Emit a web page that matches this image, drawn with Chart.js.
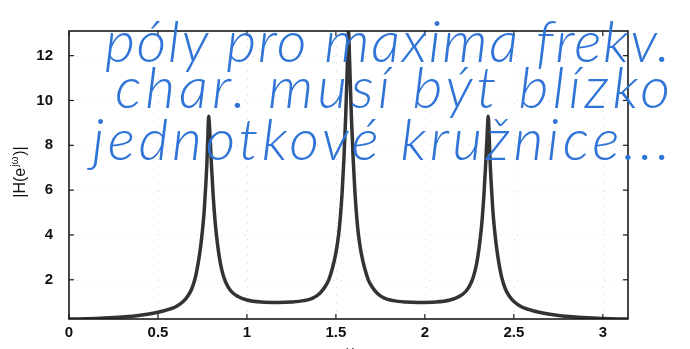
<!DOCTYPE html>
<html>
<head>
<meta charset="utf-8">
<script src="https://cdn.jsdelivr.net/npm/chart.js@4/dist/chart.umd.min.js"></script>
<style>
html, body { margin: 0; padding: 0; background: #fff; }
</style>
</head>
<body>
<canvas id="myChart" width="690" height="349"></canvas>
<script>
// frequency (rad) and |H(e^jw)|
let omega = [0, 0.1, 0.2, 0.3, 0.4, 0.5, 0.56, 0.6, 0.64, 0.67, 0.69, 0.71, 0.725, 0.74, 0.75, 0.76, 0.77, 0.775, 0.78, 0.785,
    0.79, 0.795, 0.8, 0.81, 0.82, 0.83, 0.845, 0.86, 0.88, 0.91, 0.95, 1.0, 1.08, 1.178,
    1.25, 1.32, 1.37, 1.41, 1.44, 1.46, 1.48, 1.5, 1.515, 1.525, 1.535, 1.545, 1.555, 1.562, 1.567, 1.571,
    1.575, 1.58, 1.587, 1.597, 1.607, 1.617, 1.627, 1.642, 1.662, 1.682, 1.702, 1.732, 1.772, 1.822, 1.892, 1.964,
    2.062, 2.142, 2.192, 2.232, 2.262, 2.282, 2.297, 2.312, 2.322, 2.332, 2.342, 2.347, 2.352, 2.356,
    2.362, 2.367, 2.372, 2.382, 2.392, 2.402, 2.417, 2.432, 2.452, 2.472, 2.502, 2.542, 2.582, 2.642, 2.742, 2.842, 2.942, 3.042, 3.142];
let magH = [0.25, 0.26, 0.29, 0.34, 0.42, 0.55, 0.68, 0.8, 1.02, 1.3, 1.6, 2.1, 2.7, 3.5, 4.2, 5.1, 6.4, 7.2, 8.3, 9.3,
    8.8, 8.0, 7.2, 5.8, 4.7, 3.9, 3.0, 2.4, 1.9, 1.5, 1.25, 1.1, 1.01, 0.99,
    1.01, 1.07, 1.18, 1.4, 1.7, 2.0, 2.5, 3.2, 4.0, 4.8, 5.9, 7.4, 9.3, 11.0, 12.3, 13.1,
    12.3, 11.0, 9.3, 7.4, 5.9, 4.8, 4.0, 3.2, 2.5, 2.0, 1.7, 1.4, 1.18, 1.07, 1.01, 0.99,
    1.01, 1.1, 1.25, 1.5, 1.9, 2.4, 3.0, 3.9, 4.7, 5.8, 7.2, 8.0, 8.8, 9.3,
    8.3, 7.2, 6.4, 5.1, 4.2, 3.5, 2.7, 2.1, 1.6, 1.3, 1.02, 0.8, 0.68, 0.55, 0.42, 0.34, 0.29, 0.26, 0.25];
let xTicks = [0, 0.5, 1, 1.5, 2, 2.5, 3];
let yTicks = [2, 4, 6, 8, 10, 12];
let yMin = 0.25;
let yMax = 13.1;
let note = ['póly pro maxima frekv.', 'char. musí být blízko', 'jednotkové kružnice...'];

let tickFont = { family: 'Liberation Sans', size: 15, weight: 'bold' };

// box, inward ticks, faint dotted grid, axis labels and the blue handwritten note
let decor = {
    id: 'decor',
    beforeDatasetsDraw(chart) {
        let c = chart.ctx, a = chart.chartArea;
        let xs = chart.scales.x, ys = chart.scales.y;
        c.save();
        c.strokeStyle = 'rgba(0,0,0,0.15)';
        c.lineWidth = 1;
        c.setLineDash([1, 7]);
        xTicks.forEach(v => {
            let px = Math.round(xs.getPixelForValue(v)) + 0.5;
            c.beginPath(); c.moveTo(px, a.top); c.lineTo(px, a.bottom); c.stroke();
        });
        yTicks.forEach(v => {
            let py = Math.round(ys.getPixelForValue(v)) + 0.5;
            c.beginPath(); c.moveTo(a.left, py); c.lineTo(a.right, py); c.stroke();
        });
        c.restore();
    },
    afterDraw(chart) {
        let c = chart.ctx, a = chart.chartArea;
        let xs = chart.scales.x, ys = chart.scales.y;
        c.save();
        c.strokeStyle = '#1a1a1a';
        c.lineWidth = 1.6;
        c.strokeRect(a.left, a.top, a.right - a.left, a.bottom - a.top);
        c.lineWidth = 1.2;
        xTicks.forEach(v => {
            let px = xs.getPixelForValue(v);
            c.beginPath(); c.moveTo(px, a.bottom); c.lineTo(px, a.bottom - 5); c.stroke();
            c.beginPath(); c.moveTo(px, a.top); c.lineTo(px, a.top + 5); c.stroke();
        });
        yTicks.forEach(v => {
            let py = ys.getPixelForValue(v);
            c.beginPath(); c.moveTo(a.left, py); c.lineTo(a.left + 5, py); c.stroke();
            c.beginPath(); c.moveTo(a.right, py); c.lineTo(a.right - 5, py); c.stroke();
        });

        // y title |H(e^jw)|
        c.fillStyle = '#111';
        c.translate(21, 172);
        c.rotate(-Math.PI / 2);
        c.textBaseline = 'middle';
        c.font = '16px "Liberation Sans"';
        let p1 = '|H(e', p2 = 'jω', p3 = ')|';
        let w1 = c.measureText(p1).width;
        c.font = '10px "Liberation Sans"';
        let w2 = c.measureText(p2).width;
        c.font = '16px "Liberation Sans"';
        let w3 = c.measureText(p3).width;
        let x0 = -(w1 + w2 + w3 + 2) / 2;
        c.fillText(p1, x0, 0);
        c.font = '10px "Liberation Sans"';
        c.fillText(p2, x0 + w1 + 1, -6);
        c.font = '16px "Liberation Sans"';
        c.fillText(p3, x0 + w1 + w2 + 2, 0);
        c.restore();

        // x title, cut by the bottom edge
        c.save();
        c.fillStyle = '#111';
        c.font = '15px "Liberation Sans"';
        c.textAlign = 'center';
        c.fillText('ω', 350, 356);
        c.restore();

        // handwritten note, thin italic spread over each line
        c.save();
        c.fillStyle = '#2f74d6';
        c.font = 'italic 300 58px Lato';
        let lines = [[105, 62, 565], [115, 108, 555], [92, 160, 578]];
        note.forEach((t, i) => {
            let [lx, ly, lw] = lines[i];
            c.letterSpacing = '0px';
            let tw = c.measureText(t).width;
            let sp = (lw - tw) / (t.length - 1);
            c.letterSpacing = sp.toFixed(2) + 'px';
            c.fillText(t, lx, ly);
        });
        c.restore();
    }
};

let ctx = document.getElementById('myChart').getContext('2d');
let chart = new Chart(ctx, {
    type: 'scatter',
    data: {
        datasets: [{
            data: omega.map((w, i) => ({ x: w, y: magH[i] })),
            showLine: true,
            borderColor: '#333',
            borderWidth: 3.5,
            pointRadius: 0,
            cubicInterpolationMode: 'monotone'
        }]
    },
    options: {
        responsive: false,
        animation: false,
        devicePixelRatio: 1,
        layout: { padding: { top: 31, right: 62, left: 0, bottom: 0 } },
        plugins: { legend: { display: false }, tooltip: { enabled: false } },
        scales: {
            x: {
                type: 'linear',
                min: 0,
                max: Math.PI,
                grid: { display: false, drawTicks: false },
                border: { display: false },
                afterBuildTicks: s => { s.ticks = xTicks.map(v => ({ value: v })); },
                afterFit: s => { s.height = 30; },
                ticks: { font: tickFont, color: '#111', padding: 5, autoSkip: false, maxRotation: 0, callback: v => String(v) }
            },
            y: {
                min: yMin,
                max: yMax,
                grid: { display: false, drawTicks: false },
                border: { display: false },
                afterBuildTicks: s => { s.ticks = yTicks.map(v => ({ value: v })); },
                afterFit: s => { s.width = 69; },
                ticks: { font: tickFont, color: '#111', padding: 16, autoSkip: false, callback: v => String(v) }
            }
        }
    },
    plugins: [decor]
});
</script>
</body>
</html>
